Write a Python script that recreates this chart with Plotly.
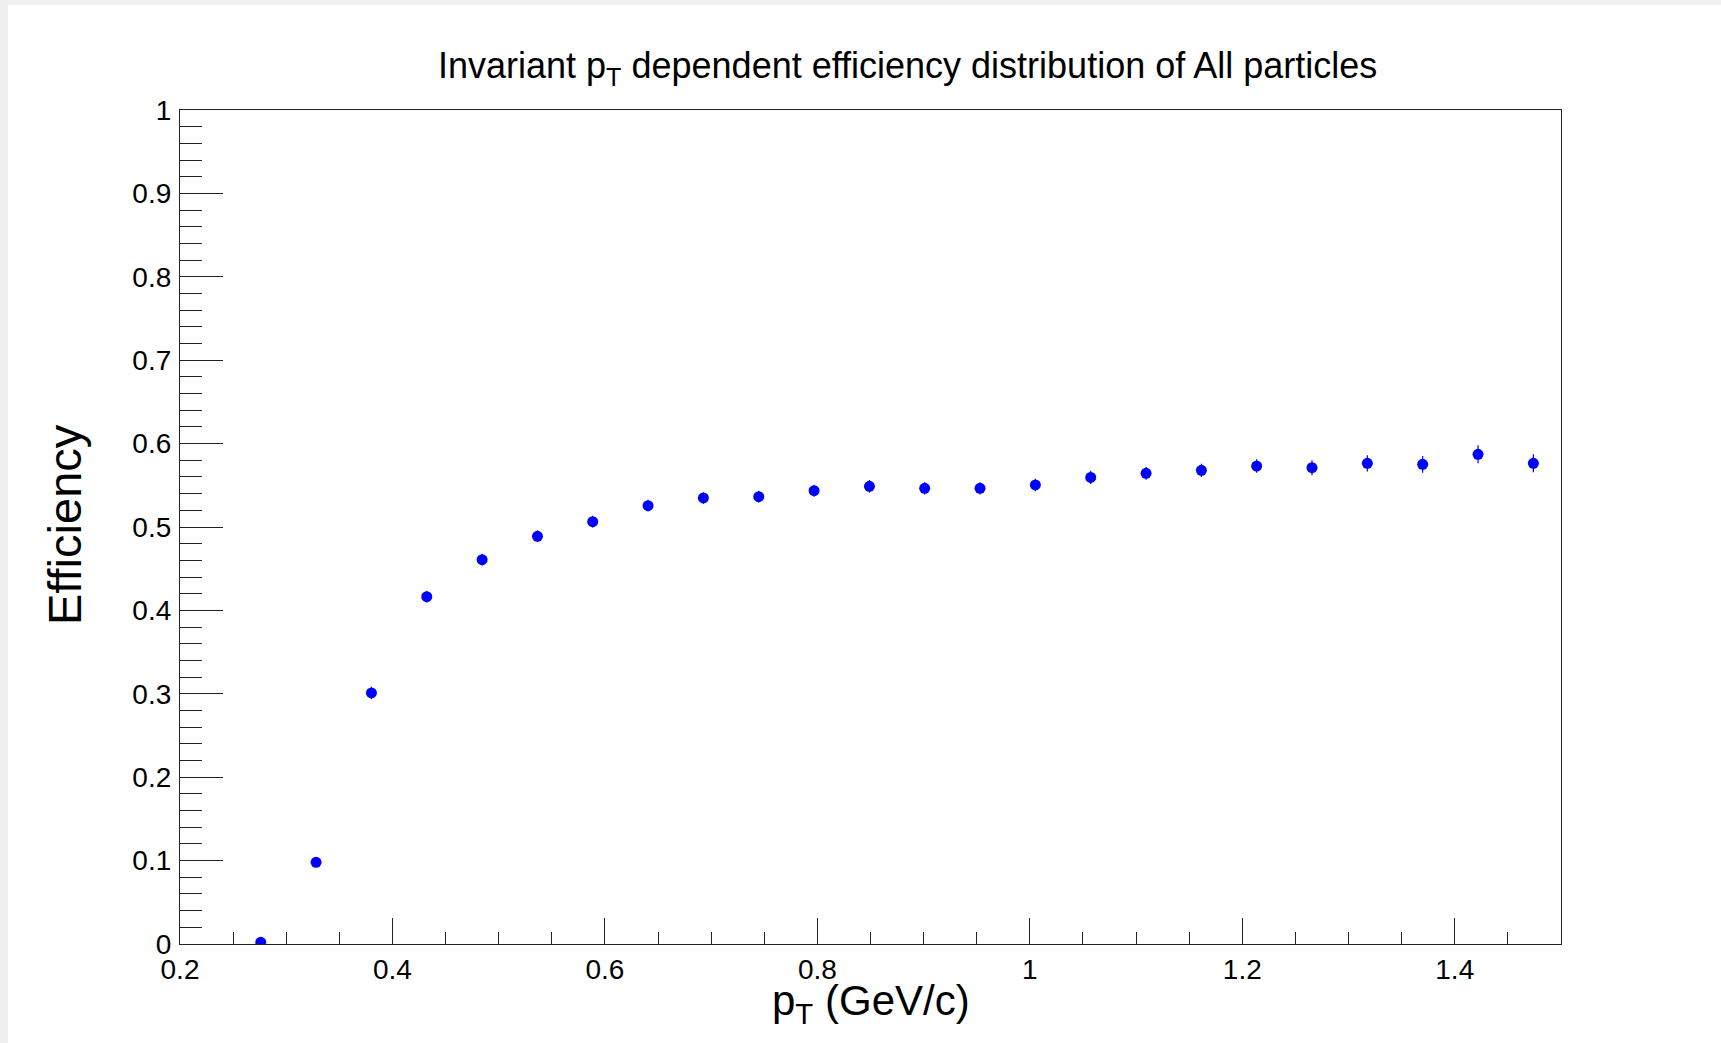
import plotly.graph_objects as go

# ---- data ----
pt = [0.2760, 0.3281, 0.3802, 0.4323, 0.4844, 0.5365, 0.5885, 0.6406,
      0.6927, 0.7448, 0.7969, 0.8490, 0.9010, 0.9531, 1.0052, 1.0573,
      1.1094, 1.1615, 1.2135, 1.2656, 1.3177, 1.3698, 1.4219, 1.4740]
eff = [0.002, 0.098, 0.301, 0.4165, 0.4608, 0.4888, 0.5064, 0.5256,
       0.5348, 0.5364, 0.5436, 0.5488, 0.5464, 0.5464, 0.5504, 0.5595,
       0.5643, 0.5679, 0.5731, 0.5711, 0.5763, 0.5751, 0.5871, 0.5763]
eff_err = [0.001, 0.005, 0.0075, 0.007, 0.007, 0.007, 0.007, 0.007,
           0.007, 0.007, 0.0072, 0.0076, 0.0074, 0.0074, 0.0076, 0.0078,
           0.0076, 0.008, 0.0082, 0.009, 0.0098, 0.01, 0.0108, 0.0108]

x_tickvals = [0.2, 0.4, 0.6, 0.8, 1.0, 1.2, 1.4]
x_ticktext = ["0.2", "0.4", "0.6", "0.8", "1", "1.2", "1.4"]
y_tickvals = [0.0, 0.1, 0.2, 0.3, 0.4, 0.5, 0.6, 0.7, 0.8, 0.9, 1.0]
y_ticktext = ["0", "0.1", "0.2", "0.3", "0.4", "0.5", "0.6", "0.7", "0.8", "0.9", "1"]

title_text = "Invariant p<sub>T</sub> dependent efficiency distribution of All particles"
x_title = "p<sub>T</sub> (GeV/c)"
y_title = "Efficiency"

# ---- layout geometry (pixels) ----
W, H = 1721, 1043
L, R, T, B = 180, 1561, 110, 944
pw, ph = R - L, B - T


def px_x(px):
    return (px - L) / pw


def px_y(py):
    return (B - py) / ph


FONT = "Liberation Sans, Arial, Helvetica, sans-serif"

fig = go.Figure()
fig.add_trace(go.Scatter(
    x=pt, y=eff, mode="markers",
    marker=dict(color="#0000ff", size=11, symbol="circle", line=dict(width=0)),
    error_y=dict(type="data", array=eff_err, visible=True,
                 color="#0000ff", thickness=1.2, width=0),
    showlegend=False,
))

axis_common = dict(
    showgrid=False, zeroline=False, showline=True, linecolor="#222222",
    linewidth=1.3, mirror=True, ticks="inside", tickcolor="#222222",
    tickwidth=1.3, tickfont=dict(family=FONT, size=28, color="#000000"),
    tickmode="array",
)

fig.update_xaxes(
    **axis_common, range=[0.2, 1.5], tickvals=x_tickvals, ticktext=x_ticktext,
    ticklen=26, ticklabelstandoff=0,
    minor=dict(tickmode="linear", tick0=0.2, dtick=0.05, ticks="inside",
               ticklen=12, tickcolor="#222222", tickwidth=1.3),
)
fig.update_yaxes(
    **axis_common, range=[0, 1], tickvals=y_tickvals, ticktext=y_ticktext,
    ticklen=43, ticklabelstandoff=2,
    minor=dict(tickmode="linear", tick0=0, dtick=0.02, ticks="inside",
               ticklen=22, tickcolor="#222222", tickwidth=1.3),
)

fig.update_layout(
    width=W, height=H, autosize=False,
    margin=dict(l=L, r=W - R, t=T, b=H - B, pad=0),
    paper_bgcolor="#f0f0f0", plot_bgcolor="#ffffff",
    font=dict(family=FONT, color="#000000"),
    shapes=[dict(type="rect", xref="paper", yref="paper", layer="below",
                 x0=px_x(8), x1=px_x(1725), y0=px_y(1050), y1=px_y(5),
                 fillcolor="#ffffff", line=dict(width=0))],
    annotations=[
        dict(text=title_text, xref="paper", yref="paper", x=px_x(907),
             y=px_y(68), xanchor="center", yanchor="middle", showarrow=False,
             font=dict(family=FONT, size=36, color="#000000")),
        dict(text=x_title, xref="paper", yref="paper", x=px_x(871),
             y=px_y(1003), xanchor="center", yanchor="middle", showarrow=False,
             font=dict(family=FONT, size=42, color="#000000")),
        dict(text=y_title, xref="paper", yref="paper", x=px_x(64),
             y=px_y(525), xanchor="center", yanchor="middle", showarrow=False,
             textangle=-90, font=dict(family=FONT, size=47, color="#000000")),
    ],
)

fig.write_html("out.html")
